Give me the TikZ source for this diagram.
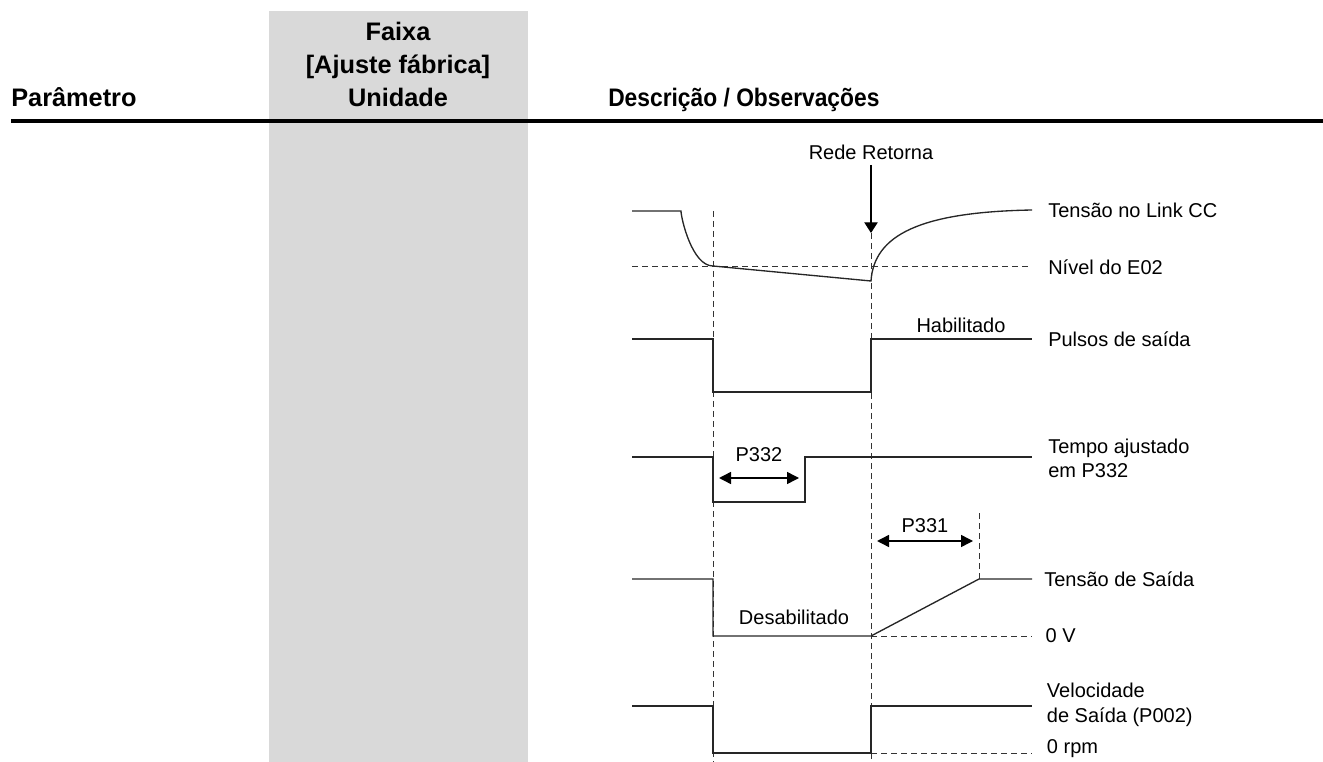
\documentclass[tikz,border=0pt]{standalone}
\usepackage{fontspec}
\setmainfont{Liberation Sans}
\newfontfamily\headnarrow[FakeStretch=0.9]{Liberation Sans}
\usepackage{tikz}
\usetikzlibrary{positioning}
\usetikzlibrary{arrows.meta}
\definecolor{colgrey}{RGB}{217,217,217}
\tikzset{
header/.style={font=\fontsize{19}{22}\selectfont\bfseries, inner sep=0pt},
sig_label/.style={font=\fontsize{15}{18.5}\selectfont, inner sep=0pt, align=left},
tag/.style={font=\fontsize{15}{18}\selectfont, inner sep=0pt},
wave/.style={line width=1pt, color=black!85},
guide/.style={line width=0.75pt, color=black!80, dash pattern=on 4.5pt off 3pt},
span/.style={line width=1.1pt, {Triangle[length=9pt,width=9pt]}-{Triangle[length=9pt,width=9pt]}}
}

\begin{document}
\begin{tikzpicture}[x=0.75pt, y=-0.75pt]
    \useasboundingbox (0,0) rectangle (1323,762);
    % table head
    \fill[colgrey] (269,11) rectangle (528,762);
    \draw[line width=3pt] (11,121) -- (1323,121);
    \node[header, anchor=base west] (param) at (11,107) {Parâmetro};
    \node[header, anchor=base] (faixa) at (398,41) {Faixa};
    \node[header, anchor=base] (ajuste) at (398,74) {[Ajuste fábrica]};
    \node[header, anchor=base] (unidade) at (398,107) {Unidade};
    \node[header, anchor=base west] (descr) at (608,107) {\headnarrow Descrição / Observações};

    % guide lines
    \coordinate (e02_start) at (632,267);
    \coordinate (e02_end) at (1032,267);
    \draw[guide] (e02_start) -- (e02_end);
    \draw[guide] (713,211) -- (713,762);
    \draw[guide] (871,233) -- (871,762);
    \draw[guide] (979,513) -- (979,579);
    \coordinate (volt_zero) at (1032,636);
    \coordinate (speed_zero) at (1032,753);
    \draw[guide] (871,636) -- (volt_zero);
    \draw[guide] (871,753) -- (speed_zero);

    \node[tag] (rede) at (871,152) {Rede Retorna};
    \coordinate (rede_tip) at (871,233);
    \draw[line width=1pt, -{Triangle[length=8pt,width=10pt]}, shorten <=4pt] (rede) -- (rede_tip);

    % link CC
    \coordinate (link_end) at (1032,210);
    \draw[wave] (632,211) -- (681,211) .. controls (681,218) and (692,266) .. (713,266)
        -- (871,281) .. controls (874,235) and (920,212) .. (link_end);

    % pulses
    \coordinate (pulse_end) at (1032,339);
    \draw[wave] (632,339) -- (713,339) -- (713,392) -- (871,392) -- (871,339) -- (pulse_end);
    \node[tag, anchor=base] (habil) at (961,333) {Habilitado};

    % P332
    \coordinate (time_end) at (1032,457);
    \draw[wave] (632,457) -- (713,457) -- (713,502) -- (805,502) -- (805,457) -- (time_end);
    \coordinate (p332_a) at (719,478);
    \coordinate (p332_b) at (799,478);
    \draw[span] (p332_a) -- (p332_b) node[tag, midway, above=12pt] (p332) {P332};

    % P331
    \coordinate (p331_a) at (877,541);
    \coordinate (p331_b) at (973,541);
    \draw[span] (p331_a) -- (p331_b) node[tag, midway, above=6pt] (p331) {P331};

    % output voltage
    \coordinate (volt_end) at (1032,579);
    \draw[wave] (632,579) -- (713,579) -- (713,636) -- (871,636) -- (979,579) -- (volt_end);
    \node[tag] (desab) at (794,617) {Desabilitado};

    % speed
    \coordinate (speed_end) at (1032,706);
    \draw[wave] (632,706) -- (713,706) -- (713,753) -- (871,753) -- (871,706) -- (speed_end);

    % signal names
    \node[sig_label] (lbl_link) [right=12pt of link_end] {Tensão no Link CC};
    \node[sig_label] (lbl_e02) [right=12pt of e02_end] {Nível do E02};
    \node[sig_label] (lbl_pulse) [right=12pt of pulse_end] {Pulsos de saída};
    \node[sig_label] (lbl_time) [right=12pt of time_end, yshift=-1pt] {Tempo ajustado\\em P332};
    \node[sig_label] (lbl_volt) [right=9pt of volt_end] {Tensão de Saída};
    \node[sig_label] (lbl_vzero) [right=10pt of volt_zero] {0 V};
    \node[sig_label] (lbl_speed) [right=11pt of speed_end, yshift=1pt] {Velocidade\\de Saída (P002)};
    \node[sig_label] (lbl_szero) [right=11pt of speed_zero, yshift=3pt] {0 rpm};
\end{tikzpicture}
\end{document}
